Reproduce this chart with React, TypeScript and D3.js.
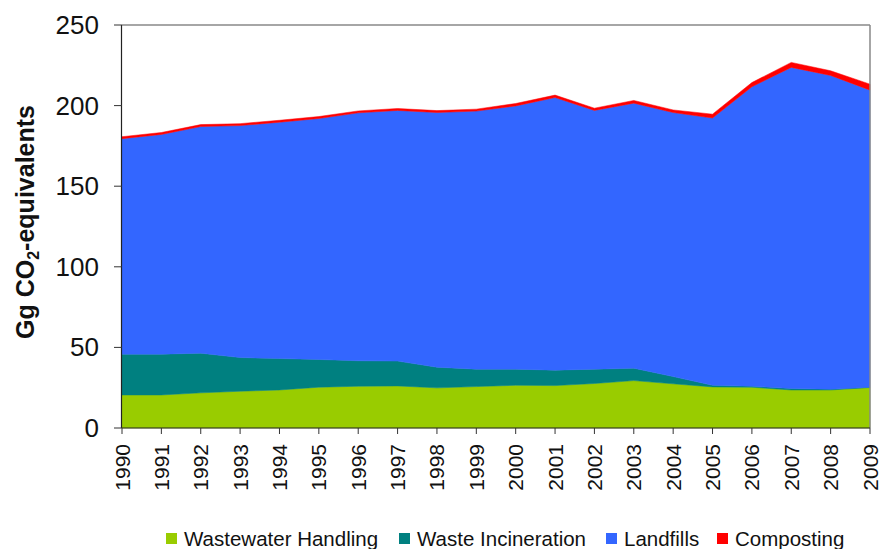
import React from "react";
import * as d3 from "d3";

const years = [1990,1991,1992,1993,1994,1995,1996,1997,1998,1999,2000,2001,2002,2003,2004,2005,2006,2007,2008,2009];
const wastewater = [20.5,20.5,21.8,22.8,23.6,25.3,25.9,26.1,24.9,25.7,26.5,26.3,27.6,29.4,27.4,25.5,25.3,23.6,23.6,25.1];
const incineration = [25.3,25.3,24.6,20.9,19.5,17.2,15.8,15.4,12.8,10.8,10.0,9.6,8.9,7.7,4.5,1.0,0.6,0.9,0.5,0.2];
const landfills = [133.7,136.3,140.6,143.9,146.6,149.5,153.8,155.5,158.0,160.1,163.3,169.1,160.5,164.4,163.8,165.8,185.8,199.2,194.6,184.3];
const composting = [1.2,1.2,1.2,1.2,1.2,1.2,1.2,1.2,1.2,1.2,1.5,1.5,1.4,1.7,1.6,2.4,2.6,3.1,2.9,3.7];
const seriesNames = ["Wastewater Handling","Waste Incineration","Landfills","Composting"];
const seriesColors = ["#99CC00","#008080","#3366FF","#FF0000"];
const yTicks = [0,50,100,150,200,250];

const W = 880, H = 549;
const left = 122, right = 870, top = 25, bottom = 428;
const FONT = "'Liberation Sans', Arial, sans-serif";

export default function App() {
  const x = d3.scaleLinear().domain([1990, 2009]).range([left, right]);
  const y = d3.scaleLinear().domain([0, 250]).range([bottom, top]);
  const keys = ["w", "i", "l", "c"];
  const rows = years.map((yr, k) => ({ year: yr, w: wastewater[k], i: incineration[k], l: landfills[k], c: composting[k] }));
  const stacked = d3.stack<any>().keys(keys)(rows);
  const area = d3.area<any>()
    .x((d) => x(d.data.year))
    .y0((d) => y(d[0]))
    .y1((d) => y(d[1]));

  const legendX = [166, 399, 606, 717];

  return (
    <svg width={W} height={H} style={{ position: "absolute", left: 0, top: 0, background: "#fff" }} fontFamily={FONT}>
      <rect x={0} y={0} width={W} height={H} fill="#fff" />
      {stacked.map((s, k) => (
        <path key={k} d={area(s) as string} fill={seriesColors[k]} stroke={seriesColors[k]} strokeWidth={0.5} />
      ))}
      <line x1={left} x2={right} y1={top} y2={top} stroke="#888" strokeWidth={1.5} />
      <line x1={right} x2={right} y1={top} y2={bottom} stroke="#888" strokeWidth={1.5} />
      <line x1={left - 0.5} x2={left - 0.5} y1={top} y2={bottom} stroke="#222" strokeWidth={1.2} />
      {yTicks.map((t) => (
        <g key={t}>
          <line x1={left - 8} x2={left} y1={y(t)} y2={y(t)} stroke="#333" strokeWidth={1} />
          <text x={99} y={y(t)} textAnchor="end" dominantBaseline="central" fontSize={26} fill="#111">{t}</text>
        </g>
      ))}
      <line x1={left} x2={right} y1={bottom} y2={bottom} stroke="#222" strokeWidth={1.2} />
      {years.map((yr) => (
        <g key={yr}>
          <line x1={x(yr)} x2={x(yr)} y1={bottom} y2={bottom + 6} stroke="#333" strokeWidth={1} />
          <text transform={`translate(${x(yr)},${444}) rotate(-90)`} textAnchor="end" dominantBaseline="central" fontSize={21} fill="#111">{yr}</text>
        </g>
      ))}
      <text transform={`translate(${34},${222}) rotate(-90)`} textAnchor="middle" fontSize={25} fontWeight="bold" fill="#111">
        Gg CO<tspan fontSize={16} dy={5}>2</tspan><tspan dy={-5}>-equivalents</tspan>
      </text>
      {seriesNames.map((n, k) => (
        <g key={n}>
          <rect x={legendX[k]} y={533} width={11} height={11} fill={seriesColors[k]} />
          <text x={legendX[k] + 18} y={546} fontSize={20.5} fill="#111">{n}</text>
        </g>
      ))}
    </svg>
  );
}
